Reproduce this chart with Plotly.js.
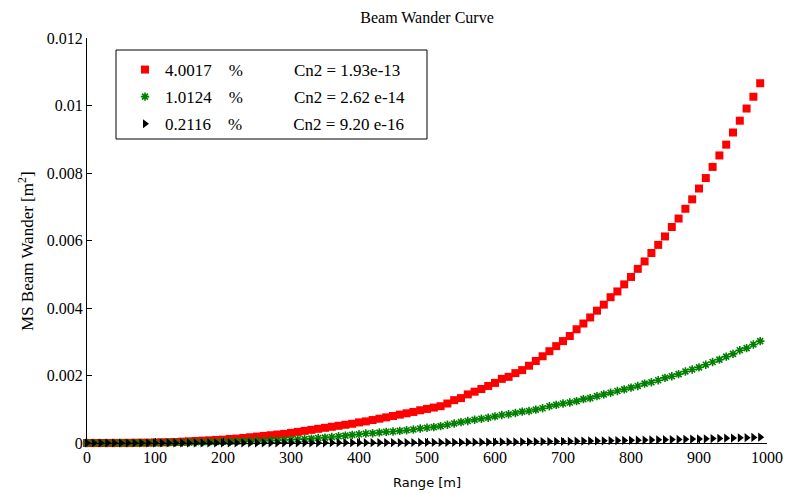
<!DOCTYPE html>
<html>
<head>
<meta charset="utf-8">
<script src="https://cdn.plot.ly/plotly-3.0.1.min.js"></script>
<style>html,body{margin:0;padding:0;background:#fff;}#chart{width:787px;height:494px;}</style>
</head>
<body>
<div id="chart"></div>
<script>
// Range [m], every 10 m
const rangeM = [0,10,20,30,40,50,60,70,80,90,100,110,120,130,140,150,160,170,180,190,200,210,220,230,240,250,260,270,280,290,300,310,320,330,340,350,360,370,380,390,400,410,420,430,440,450,460,470,480,490,500,510,520,530,540,550,560,570,580,590,600,610,620,630,640,650,660,670,680,690,700,710,720,730,740,750,760,770,780,790,800,810,820,830,840,850,860,870,880,890,900,910,920,930,940,950,960,970,980,990];

// MS beam wander [m^2]
const redVals = [0,0.0000002,0.0000005,0.000001,0.000002,0.000003,0.000004,0.000006,0.000008,0.00001,
  0.000015,0.00002,0.000025,0.00003,0.00004,0.00005,0.00006,0.00007,0.00008,0.00009,
  0.0001,0.00012,0.00013,0.00015,0.00017,0.00019,0.00021,0.00023,0.00025,0.00027,
  0.0003,0.00033,0.00036,0.00039,0.00042,0.00045,0.00048,0.00051,0.00054,0.00057,
  0.00061,0.00064,0.00068,0.00072,0.00076,0.0008,0.00084,0.00088,0.00092,0.00097,
  0.00101,0.00105,0.00109,0.00117,0.00127,0.00133,0.00144,0.00152,0.0016,0.00169,
  0.00178,0.0019,0.00196,0.00207,0.00216,0.00229,0.00243,0.00257,0.00272,0.00287,
  0.00302,0.00317,0.00337,0.00354,0.00372,0.00392,0.0041,0.00432,0.00449,0.0047,
  0.00492,0.00516,0.00538,0.00563,0.00587,0.00612,0.0064,0.00665,0.00694,0.00722,
  0.00754,0.00785,0.00818,0.00852,0.00884,0.0092,0.00955,0.00991,0.01026,0.01066];

const greenVals = [0,0,0,0.0000005,0.000001,0.0000015,0.000002,0.000003,0.000004,0.000005,
  0.000006,0.000008,0.00001,0.000012,0.000015,0.000018,0.000021,0.000024,0.000028,0.000032,
  0.000036,0.00004,0.000045,0.00005,0.000055,0.00006,0.000066,0.000072,0.000079,0.000087,
  0.0001,0.00011,0.00012,0.00013,0.00015,0.00016,0.00018,0.0002,0.00022,0.00024,
  0.00026,0.00028,0.00029,0.00031,0.00033,0.00034,0.00036,0.00038,0.0004,0.00043,
  0.00045,0.00047,0.0005,0.00054,0.00058,0.00062,0.00065,0.00069,0.00072,0.00075,
  0.00079,0.00083,0.00085,0.00089,0.00093,0.00095,0.00099,0.00103,0.00109,0.00113,
  0.00117,0.0012,0.00124,0.0013,0.00133,0.00139,0.00144,0.00149,0.00154,0.00159,
  0.00164,0.00169,0.00176,0.0018,0.00186,0.00193,0.00198,0.00204,0.00212,0.00218,
  0.00224,0.00232,0.0024,0.00247,0.00256,0.00264,0.00275,0.00281,0.00292,0.00302];

const blackVals = [0,0,0,0,0,0,0,0,0,0,
  0.0000002,0.0000003,0.0000004,0.0000005,0.0000006,0.0000008,0.000001,0.0000012,0.0000013,0.0000015,
  0.0000016,0.0000019,0.0000021,0.0000024,0.0000027,0.000003,0.0000034,0.0000037,0.000004,0.0000043,
  0.0000048,0.0000053,0.0000058,0.0000062,0.0000067,0.0000072,0.0000077,0.0000082,0.0000086,0.0000091,
  0.0000098,0.00001,0.000011,0.0000115,0.000012,0.000013,0.0000134,0.000014,0.0000147,0.0000155,
  0.000016,0.000017,0.0000175,0.0000187,0.00002,0.000021,0.000023,0.000024,0.0000256,0.000027,
  0.0000285,0.00003,0.000031,0.000033,0.0000346,0.0000366,0.000039,0.000041,0.0000435,0.000046,
  0.000048,0.000051,0.000054,0.0000566,0.0000595,0.0000627,0.0000656,0.000069,0.000072,0.0000752,
  0.0000787,0.0000826,0.000086,0.00009,0.000094,0.000098,0.0001024,0.000106,0.000111,0.0001155,
  0.000121,0.0001256,0.000131,0.0001363,0.0001414,0.000147,0.0001528,0.0001586,0.000164,0.0001706];

const pctLabels = ["4.0017", "1.0124", "0.2116"];
const cn2Labels = ["Cn2 = 1.93e-13", "Cn2 = 2.62 e-14", "Cn2 = 9.20 e-16"];

const xTickVals = [0,100,200,300,400,500,600,700,800,900,1000];
const yTickVals = [0,0.002,0.004,0.006,0.008,0.01,0.012];
const yTickText = ["0","0.002","0.004","0.006","0.008","0.01","0.012"];

const NB = "\u00A0";
function legName(i){ return pctLabels[i] + NB.repeat(4) + "%" + NB.repeat(12) + cn2Labels[i]; }

const serif = "Liberation Serif, Times New Roman, serif";

const traces = [
  {x: rangeM, y: redVals, mode: "markers", type: "scatter", name: legName(0), cliponaxis: false,
   legendgroup: "a",
   marker: {symbol: "square", size: 8, color: "#ff0000", line: {width: 0}}},
  {x: rangeM, y: greenVals, mode: "markers", type: "scatter", name: legName(1), cliponaxis: false,
   legendgroup: "b",
   marker: {symbol: "asterisk-open", size: 7, color: "#008000", line: {color: "#008000", width: 1.6}}},
  {x: rangeM, y: blackVals, mode: "markers", type: "scatter", name: legName(2), cliponaxis: false,
   legendgroup: "c",
   marker: {symbol: "triangle-right", size: 8, color: "#000000", line: {width: 0}}}
];

const layout = {
  width: 787, height: 494,
  margin: {l: 87, r: 20, t: 38, b: 51},
  paper_bgcolor: "#ffffff", plot_bgcolor: "#ffffff",
  showlegend: true,
  title: {text: "Beam Wander Curve", font: {family: serif, size: 16, color: "#000"},
          x: 0.5, xref: "paper", y: 1 - 17/494, yanchor: "middle", xanchor: "center"},
  font: {family: serif, color: "#000"},
  xaxis: {
    range: [0, 1000], tickvals: xTickVals, ticks: "inside", ticklen: 5, tickcolor: "#000",
    showline: true, linecolor: "#000", linewidth: 1, mirror: false, showgrid: false, zeroline: false,
    tickfont: {family: serif, size: 16, color: "#000"},
    title: {text: "Range [m]", font: {family: "DejaVu Sans, sans-serif", size: 13, color: "#000"}, standoff: 12},
    automargin: false
  },
  yaxis: {
    range: [0, 0.012], tickvals: yTickVals, ticktext: yTickText, ticks: "inside", ticklen: 5, tickcolor: "#000",
    showline: true, linecolor: "#000", linewidth: 1, mirror: false, showgrid: false, zeroline: false,
    tickfont: {family: serif, size: 16, color: "#000"},
    automargin: false
  },
  annotations: [{
    text: "MS Beam Wander [m<sup>2</sup>]", textangle: -90, showarrow: false,
    xref: "paper", yref: "paper", x: (26 - 87) / 680, y: (443 - 251) / 405,
    xanchor: "center", yanchor: "middle",
    font: {family: serif, size: 17, color: "#000"}
  }],
  legend: {
    x: (125 - 87) / 680, y: (443 - 52) / 405, xanchor: "left", yanchor: "top",
    bgcolor: "rgba(0,0,0,0)", borderwidth: 0,
    font: {family: serif, size: 17, color: "#000"},
    traceorder: "grouped", tracegroupgap: 2
  },
  shapes: [{
    type: "rect", xref: "paper", yref: "paper",
    x0: (116 - 87) / 680, x1: (427 - 87) / 680,
    y0: (443 - 139) / 405, y1: (443 - 50) / 405,
    line: {color: "#000", width: 1}, fillcolor: "#ffffff", layer: "below"
  }]
};

Plotly.newPlot("chart", traces, layout, {displayModeBar: false, staticPlot: true});
</script>
</body>
</html>
